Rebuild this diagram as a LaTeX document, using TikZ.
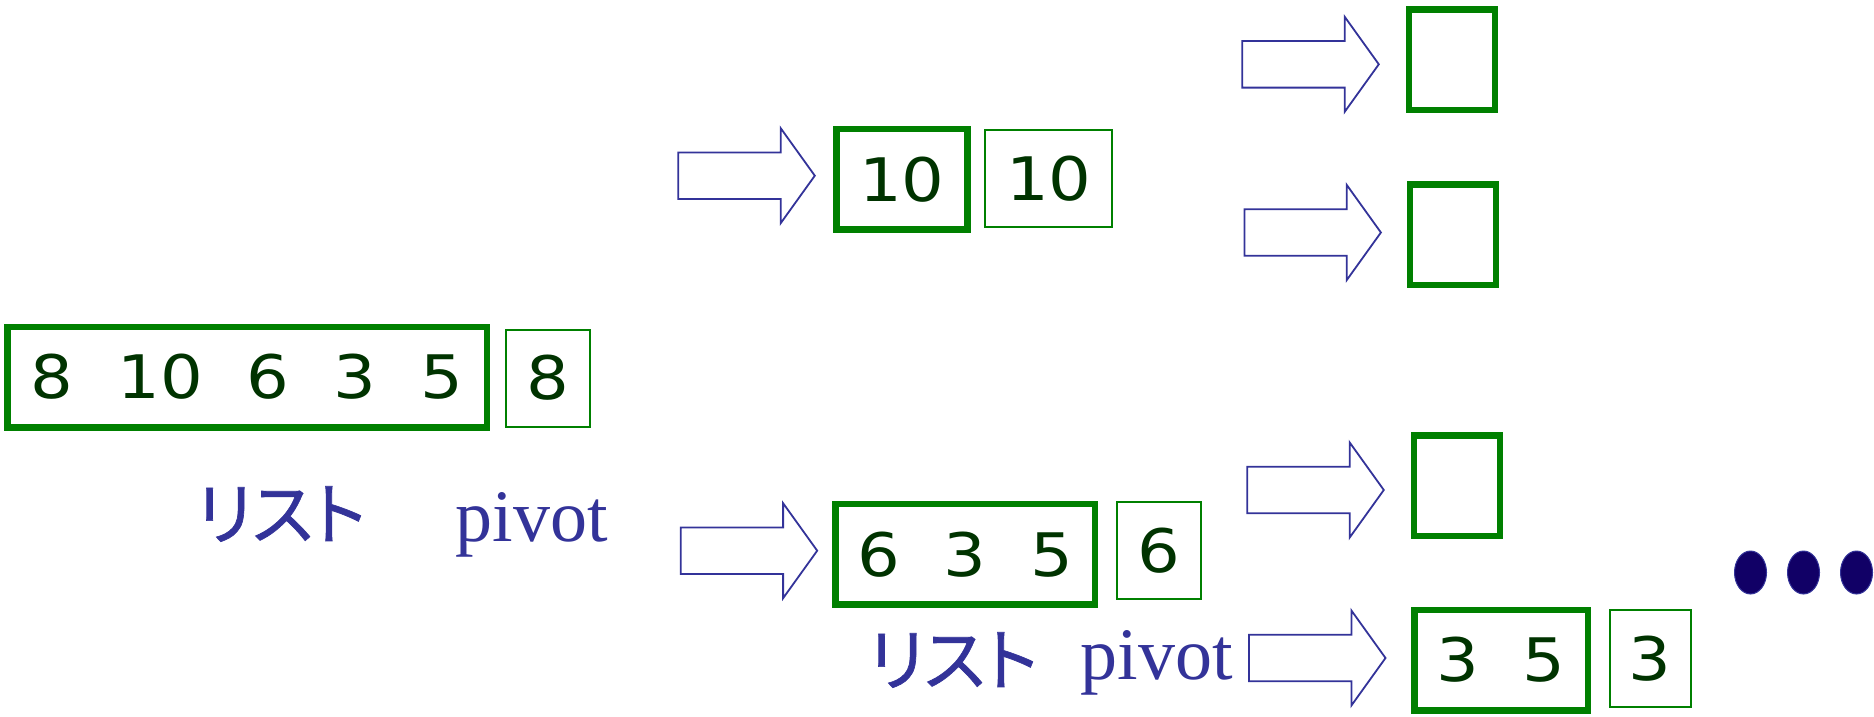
\documentclass[tikz,border=0pt]{standalone}
\usepackage{fontspec}
\setmainfont{Liberation Serif}
\newfontfamily\numfont[FakeStretch=1.12]{DejaVu Sans}
\newfontfamily\jpfont[RawFeature=+palt, FakeBold=1]{Noto Sans CJK JP}
\definecolor{listgreen}{RGB}{0,128,0}
\definecolor{numgreen}{RGB}{0,51,0}
\definecolor{arrowblue}{RGB}{51,51,153}
\definecolor{dotblue}{RGB}{17,0,102}
\newcommand{\gap}{\hspace{44pt}}
\usetikzlibrary{positioning}
\tikzset{listbox/.style={draw=listgreen, line width=6.5pt, minimum height=100.5pt, inner sep=0pt, text=numgreen, font=\numfont\fontsize{60pt}{60pt}\selectfont}}
\tikzset{pivotbox/.style={draw=listgreen, line width=2pt, minimum height=97pt, inner sep=0pt, text=numgreen, font=\numfont\fontsize{60pt}{60pt}\selectfont}}
\tikzset{jplabel/.style={inner sep=0pt, text=arrowblue, font=\jpfont\fontsize{68pt}{68pt}\selectfont}}
\tikzset{pvlabel/.style={inner sep=0pt, text=arrowblue, font=\rmfamily\fontsize{74pt}{74pt}\selectfont}}
\tikzset{arrowline/.style={draw=arrowblue, fill=white, line width=1.8pt, line join=miter}}
\tikzset{fatarrow/.pic={\draw[arrowline] (0,-23.3) -- (102.4,-23.3) -- (102.4,-47.5) -- (136.5,0) -- (102.4,47.5) -- (102.4,23.3) -- (0,23.3) -- cycle;}}

\begin{document}
\begin{tikzpicture}[x=1pt,y=-1pt] % y grows downwards, one unit per pixel
\useasboundingbox (0,0) rectangle (1874,717);
% the whole list and its pivot
\node[listbox, minimum width=479.5pt] (list0) at (247,377) {8\gap 10\gap 6\gap 3\gap 5};
\node[pivotbox, minimum width=84pt] (piv0) at (548,378) {8};
\node[jplabel] (lab0) at (281,514) {リスト};
\node[pvlabel] (pv0) at (532,525) {pivot};
% first split
\pic (arr1) at (678.3,175.7) {fatarrow};
\node[listbox, minimum width=131pt] (list1) at (902,179.3) {10};
\node[pivotbox, minimum width=127pt] (piv1) at (1048.8,178.8) {10};
\pic (arr2) at (680.7,550.7) {fatarrow};
\node[listbox, minimum width=259.5pt] (list2) at (965.3,554.2) {6\gap 3\gap 5};
\node[pivotbox, minimum width=84pt] (piv2) at (1159,550.8) {6};
\node[jplabel] (lab2) at (953,660) {リスト};
\node[pvlabel] (pv2) at (1157,663.3) {pivot};
% second split
\pic (arr3) at (1242.3,64.3) {fatarrow};
\node[listbox, minimum width=86pt] (list3) at (1452,59.7) {};
\pic (arr4) at (1244.4,232.5) {fatarrow};
\node[listbox, minimum width=86pt] (list4) at (1452.8,234.7) {};
\pic (arr5) at (1247.3,490) {fatarrow};
\node[listbox, minimum width=86pt] (list5) at (1457,485.5) {};
\pic (arr6) at (1249,658) {fatarrow};
\node[listbox, minimum width=173.5pt] (list6) at (1501,660) {3\gap 5};
\node[pivotbox, minimum width=81pt] (piv6) at (1650.3,658.8) {3};
% and so on
\foreach \x in {1750.5,1803.5,1856.5}
  \filldraw[fill=dotblue, draw=arrowblue, line width=1pt] (\x,572.5) ellipse [x radius=16pt, y radius=21.5pt];
\end{tikzpicture}
\end{document}
